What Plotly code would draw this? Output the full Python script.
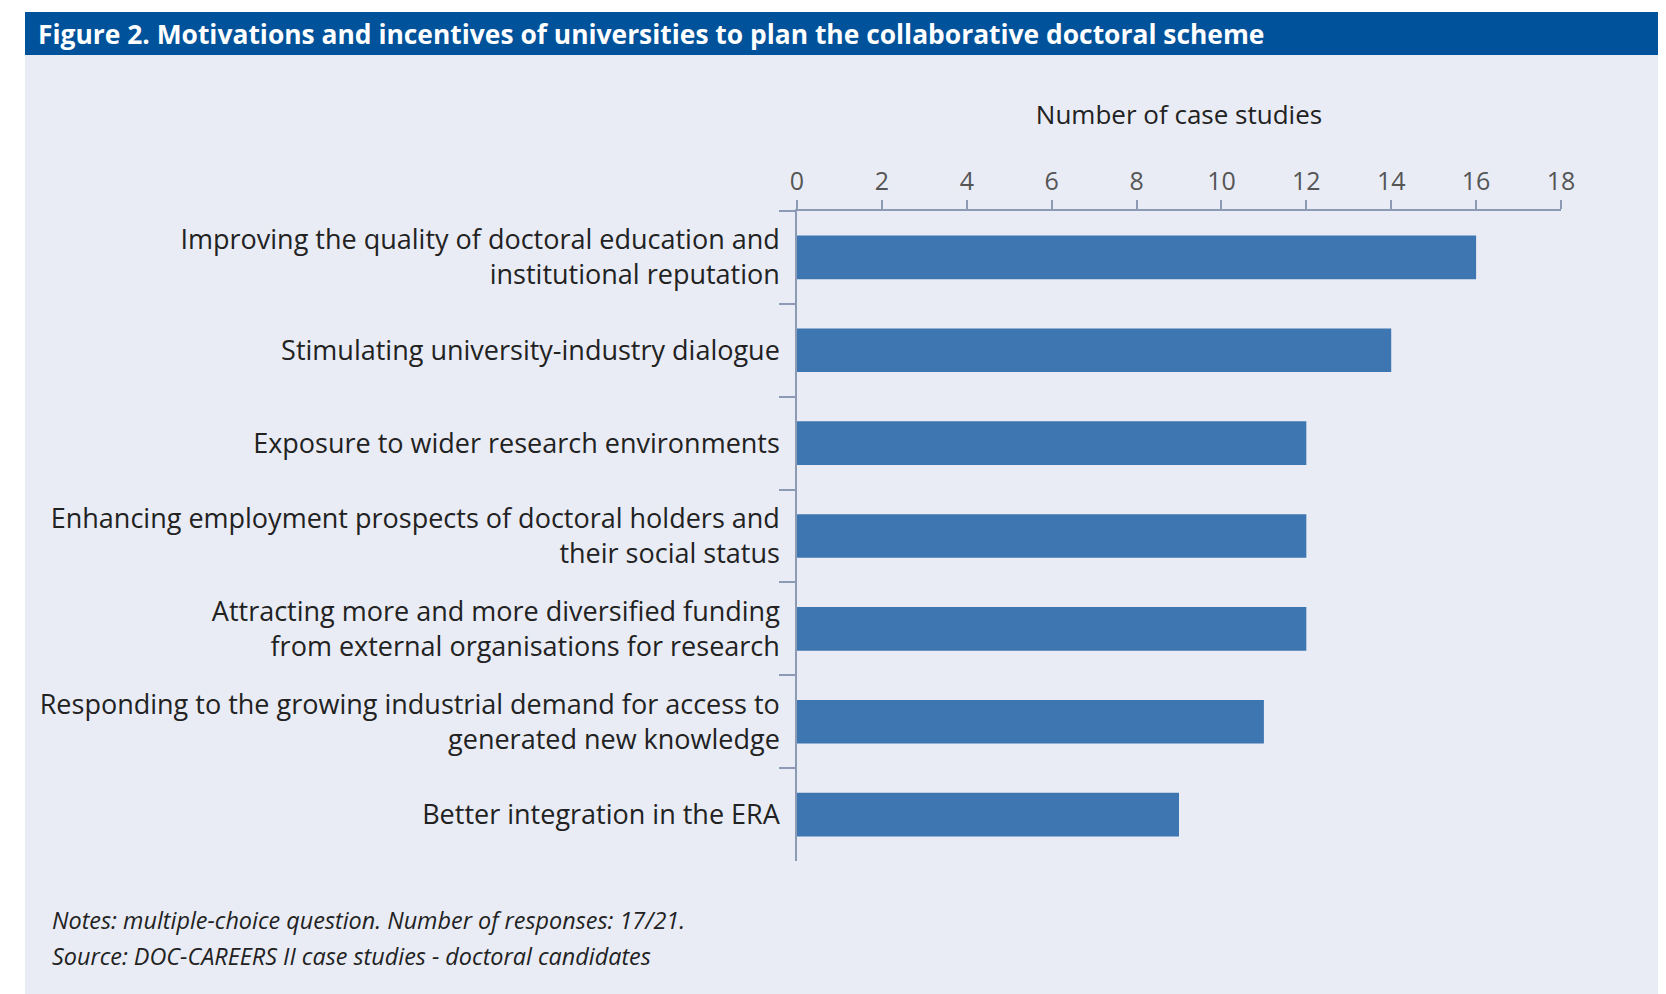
import plotly.graph_objects as go

categories = [
    "Improving the quality of doctoral education and<br>institutional reputation",
    "Stimulating university-industry dialogue",
    "Exposure to wider research environments",
    "Enhancing employment prospects of doctoral holders and<br>their social status",
    "Attracting more and more diversified funding<br>from external organisations for research",
    "Responding to the growing industrial demand for access to<br>generated new knowledge",
    "Better integration in the ERA",
]
values = [16, 14, 12, 12, 12, 11, 9]
x_ticks = [0, 2, 4, 6, 8, 10, 12, 14, 16, 18]

title_text = "Figure 2. Motivations and incentives of universities to plan the collaborative doctoral scheme"
notes_text = "Notes: multiple-choice question. Number of responses: 17/21."
source_text = "Source: DOC-CAREERS II case studies - doctoral candidates"

W, H = 1666, 994
L, R, T, B = 789, 113, 203, 141
PW, PH = W - L - R, H - T - B

def px(x):
    return (x - L) / PW

def py(y):
    return 1 - (y - T) / PH

fig = go.Figure()
fig.add_trace(go.Bar(
    y=categories, x=values, orientation="h",
    marker=dict(color="#3d76b0", line=dict(width=0)),
    hoverinfo="x+y",
))

shapes = [
    dict(type="rect", xref="paper", yref="paper", x0=px(17), x1=px(1653), y0=py(47), y1=py(989),
         fillcolor="#e9ecf5", line=dict(width=0), layer="below"),
    dict(type="rect", xref="paper", yref="paper", x0=px(17), x1=px(1653), y0=py(4), y1=py(47),
         fillcolor="#00529b", line=dict(width=0), layer="below"),
]

annotations = [
    dict(text="<b>" + title_text + "</b>", xref="paper", yref="paper", x=px(28), y=py(26),
         xanchor="left", yanchor="middle", showarrow=False,
         font=dict(family="Open Sans", size=26.4, color="white")),
    dict(text="<i>" + notes_text + "</i>", xref="paper", yref="paper", x=px(42), y=py(912),
         xanchor="left", yanchor="middle", showarrow=False,
         font=dict(family="Open Sans", size=23.4, color="#222222")),
    dict(text="<i>" + source_text + "</i>", xref="paper", yref="paper", x=px(42), y=py(948),
         xanchor="left", yanchor="middle", showarrow=False,
         font=dict(family="Open Sans", size=23.4, color="#222222")),
]

fig.update_layout(
    width=W, height=H,
    margin=dict(l=L, r=R, t=T, b=B, pad=0),
    paper_bgcolor="white",
    plot_bgcolor="rgba(0,0,0,0)",
    showlegend=False,
    bargap=0.53,
    shapes=shapes,
    annotations=annotations,
    xaxis=dict(
        side="top", range=[0, 18], tickvals=x_ticks, ticktext=[str(v) for v in x_ticks],
        showgrid=False, zeroline=False, showline=True, linecolor="#8c9ab3", linewidth=1.5,
        ticks="outside", ticklen=9, tickcolor="#8c9ab3", tickwidth=1.5,
        tickfont=dict(family="Open Sans", size=25, color="#555555"),
        title=dict(text="Number of case studies", standoff=31,
                   font=dict(family="Open Sans", size=26, color="#222222")),
        fixedrange=True,
    ),
    yaxis=dict(
        autorange="reversed", type="category",
        showgrid=False, zeroline=False, showline=True, linecolor="#8c9ab3", linewidth=1.5,
        ticks="outside", tickson="boundaries", ticklen=16, tickcolor="#8c9ab3", tickwidth=1.5,
        tickfont=dict(family="Open Sans", size=27, color="#222222"),
        ticklabelstandoff=10,
        fixedrange=True,
    ),
)

fig.write_html("out.html")
